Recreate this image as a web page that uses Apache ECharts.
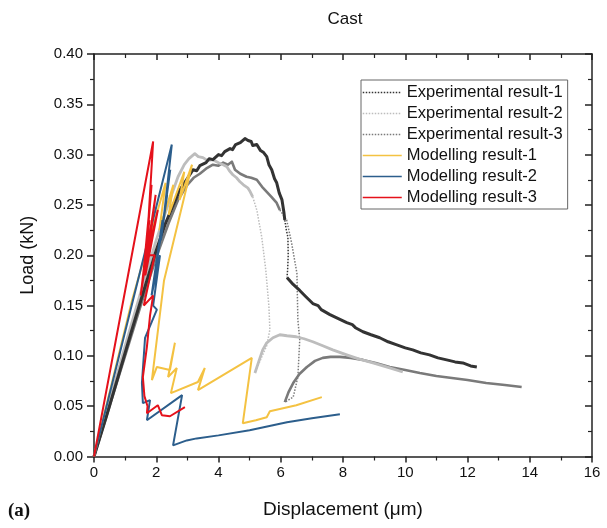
<!DOCTYPE html>
<html><head><meta charset="utf-8">
<script src="https://cdn.jsdelivr.net/npm/echarts@6/dist/echarts.min.js"></script>
<style>html,body{margin:0;padding:0;background:#fff}#c{width:607px;height:528px}</style>
</head><body><div id="c"></div>
<script>
// ---- data (x: displacement µm, y: load kN) ----
var exp1Rise = [[0,0],[0.4,0.04],[0.8,0.082],[1.2,0.124],[1.6,0.165],[2.0,0.205],[2.3,0.232],[2.55,0.25],[2.76,0.265],[2.95,0.274],[3.1,0.281],[3.18,0.285],[3.3,0.284],[3.4,0.289],[3.6,0.292],[3.7,0.296],[3.82,0.295],[4.0,0.3],[4.1,0.299],[4.2,0.303],[4.37,0.306],[4.45,0.305],[4.55,0.31],[4.7,0.312],[4.85,0.316],[4.95,0.314],[5.05,0.313],[5.1,0.309],[5.23,0.31],[5.35,0.304],[5.45,0.302],[5.55,0.298],[5.62,0.29],[5.71,0.285],[5.8,0.276],[5.87,0.272],[5.95,0.262],[6.04,0.255],[6.1,0.243],[6.13,0.235]];
var exp1Drop = [[6.13,0.235],[6.18,0.225],[6.23,0.218],[6.24,0.2],[6.22,0.185],[6.2,0.178]];
var exp1Tail = [[6.2,0.178],[6.4,0.171],[6.61,0.165],[6.8,0.159],[7.03,0.152],[7.2,0.150],[7.3,0.146],[7.58,0.141],[7.85,0.137],[8.12,0.133],[8.3,0.131],[8.4,0.128],[8.64,0.124],[8.9,0.121],[9.18,0.118],[9.45,0.114],[9.73,0.111],[10.0,0.108],[10.24,0.106],[10.5,0.103],[10.78,0.101],[11.05,0.098],[11.33,0.096],[11.6,0.094],[11.85,0.093],[12.1,0.09],[12.3,0.089]];

var exp2Rise = [[0,0],[0.5,0.055],[1.0,0.11],[1.5,0.163],[2.0,0.215],[2.4,0.252],[2.7,0.278],[2.9,0.29],[3.05,0.296],[3.24,0.301],[3.35,0.298],[3.5,0.297],[3.65,0.294],[3.82,0.295],[4.0,0.292],[4.15,0.29],[4.27,0.288],[4.35,0.284],[4.46,0.28],[4.58,0.277],[4.69,0.273],[4.8,0.27],[4.94,0.267],[5.02,0.263],[5.1,0.258]];
var exp2Drop = [[5.1,0.258],[5.23,0.245],[5.39,0.218],[5.52,0.185],[5.62,0.149],[5.65,0.126],[5.55,0.11],[5.39,0.099],[5.17,0.083]];
var exp2Tail = [[5.17,0.083],[5.3,0.095],[5.42,0.106],[5.55,0.113],[5.75,0.118],[5.97,0.121],[6.2,0.12],[6.5,0.119],[6.75,0.117],[7.03,0.114],[7.35,0.11],[7.67,0.106],[8.12,0.101],[8.5,0.097],[8.96,0.093],[9.5,0.088],[9.92,0.084]];

var exp3Rise = [[0,0],[0.5,0.05],[1.0,0.1],[1.5,0.15],[2.0,0.198],[2.4,0.232],[2.7,0.255],[3.0,0.27],[3.2,0.277],[3.4,0.281],[3.6,0.286],[3.82,0.29],[4.0,0.289],[4.15,0.292],[4.3,0.29],[4.43,0.293],[4.53,0.285],[4.7,0.281],[4.9,0.278],[5.05,0.277],[5.23,0.275],[5.4,0.268],[5.55,0.263],[5.7,0.258],[5.87,0.252],[5.97,0.245]];
var exp3Drop = [[5.97,0.245],[6.19,0.235],[6.35,0.212],[6.52,0.182],[6.55,0.136],[6.61,0.116],[6.55,0.079],[6.4,0.059],[6.13,0.054]];
var exp3Tail = [[6.13,0.054],[6.25,0.064],[6.4,0.073],[6.6,0.082],[6.84,0.089],[7.1,0.095],[7.35,0.098],[7.6,0.099],[7.9,0.099],[8.25,0.098],[8.64,0.096],[9.05,0.093],[9.5,0.089],[10.0,0.086],[10.47,0.083],[11.0,0.08],[11.5,0.078],[12.0,0.076],[12.6,0.073],[13.2,0.071],[13.74,0.069]];

var model1 = [[0,0],[1.22,0.155],[2.3,0.272],[2.1,0.225],[2.55,0.27],[2.4,0.24],[2.9,0.283],[2.75,0.255],[3.15,0.29],[2.25,0.175],[1.86,0.076],[2.02,0.089],[2.44,0.086],[2.6,0.113],[2.38,0.079],[2.66,0.088],[2.47,0.063],[3.34,0.074],[3.56,0.088],[3.34,0.066],[5.07,0.098],[4.78,0.033],[5.2,0.036],[5.55,0.039],[5.65,0.045],[6.5,0.051],[7.32,0.059]];
var model2 = [[0,0],[2.5,0.31],[2.25,0.24],[2.45,0.285],[2.15,0.215],[2.35,0.26],[2.0,0.19],[2.3,0.25],[1.92,0.175],[2.2,0.235],[1.85,0.16],[2.12,0.2],[1.9,0.15],[2.02,0.146],[1.64,0.118],[1.54,0.073],[1.57,0.053],[1.8,0.056],[1.7,0.036],[2.83,0.061],[2.54,0.011],[2.98,0.016],[3.3,0.018],[4.0,0.021],[5.0,0.026],[5.6,0.03],[6.2,0.034],[7.0,0.038],[7.9,0.042]];
var model3 = [[0,0],[1.9,0.313],[1.72,0.22],[1.85,0.27],[1.55,0.17],[1.78,0.235],[1.5,0.16],[1.98,0.26],[1.65,0.18],[2.05,0.245],[1.72,0.2],[1.95,0.2],[1.6,0.15],[1.9,0.16],[1.8,0.14],[1.7,0.109],[1.57,0.079],[1.62,0.06],[1.72,0.05],[1.7,0.043],[2.05,0.051],[2.18,0.041],[2.44,0.04],[2.92,0.049]];

var names = ['Experimental result-1','Experimental result-2','Experimental result-3','Modelling result-1','Modelling result-2','Modelling result-3'];
var xTicks = {min:0, max:16, step:2};
var yTicks = {min:0, max:0.40, step:0.05};

var C = {e1:'#333333', e2:'#BDBDBD', e3:'#7A7A7A', m1:'#F4C242', m2:'#2C5E8C', m3:'#E5111B'};
var FONT = 'Liberation Sans, Arial, sans-serif';

function solid(id, data, color, w){
  return {type:'line', id:id, name:id, data:data, showSymbol:false, symbol:'none', silent:true,
    lineStyle:{color:color, width:w, type:'solid', join:'round'}, itemStyle:{color:color}, z:2};
}
function dotted(name, data, color){
  return {type:'line', name:name, data:data, showSymbol:false, symbol:'none',
    lineStyle:{color:color, width:1.5, type:'dotted'}, itemStyle:{color:color}, z:2};
}
function model(name, data, color){
  return {type:'line', name:name, data:data, showSymbol:false, symbol:'none',
    lineStyle:{color:color, width:2}, itemStyle:{color:color}, z:3};
}

var chart = echarts.init(document.getElementById('c'), null, {renderer:'canvas'});
var axisCommon = {
  axisLine:{show:true, onZero:false, lineStyle:{color:'#222', width:1.5}},
  splitLine:{show:false}
};
chart.setOption({
  animation:false,
  backgroundColor:'#fff',
  title:{text:'Cast', left:340, top:6, textAlign:'center',
    textStyle:{fontFamily:FONT, fontSize:17, fontWeight:'normal', color:'#111'}},
  grid:{left:94, right:15, top:54, bottom:71.5, containLabel:false},
  legend:{data:names, orient:'vertical', left:361, top:80, itemWidth:39, itemHeight:12, itemGap:4,
    padding:[4,5,3,1], borderColor:'#666', borderWidth:1, backgroundColor:'#fff',
    itemStyle:{opacity:0, borderWidth:0},
    lineStyle:{width:1.5},
    textStyle:{fontFamily:FONT, fontSize:16.5, color:'#111'}},
  xAxis:[
    Object.assign({type:'value', min:xTicks.min, max:xTicks.max, interval:xTicks.step, position:'bottom',
      axisTick:{show:true, inside:false, length:6, lineStyle:{color:'#222', width:1.5}},
      minorTick:{show:true, splitNumber:2, length:4, lineStyle:{color:'#222', width:1.2}},
      axisLabel:{fontFamily:FONT, fontSize:15, color:'#111', margin:9},
      name:'Displacement (μm)', nameLocation:'middle', nameGap:44,
      nameTextStyle:{fontFamily:FONT, fontSize:19, color:'#111'}}, axisCommon),
    Object.assign({type:'value', min:xTicks.min, max:xTicks.max, interval:xTicks.step, position:'top',
      axisTick:{show:true, inside:true, length:6, lineStyle:{color:'#222', width:1.5}},
      minorTick:{show:true, splitNumber:2, length:4, lineStyle:{color:'#222', width:1.2}},
      axisLabel:{show:false}}, axisCommon)
  ],
  yAxis:[
    Object.assign({type:'value', min:yTicks.min, max:yTicks.max, interval:yTicks.step, position:'left',
      axisTick:{show:true, inside:false, length:7, lineStyle:{color:'#222', width:1.5}},
      minorTick:{show:true, splitNumber:2, length:4, lineStyle:{color:'#222', width:1.2}},
      axisLabel:{fontFamily:FONT, fontSize:15, color:'#111', margin:11, formatter:function(v){return v.toFixed(2);}},
      name:'Load (kN)', nameLocation:'middle', nameGap:57,
      nameTextStyle:{fontFamily:FONT, fontSize:18, color:'#111'}}, axisCommon),
    Object.assign({type:'value', min:yTicks.min, max:yTicks.max, interval:yTicks.step, position:'right',
      axisTick:{show:true, inside:true, length:7, lineStyle:{color:'#222', width:1.5}},
      minorTick:{show:true, splitNumber:2, length:4, lineStyle:{color:'#222', width:1.2}},
      axisLabel:{show:false}}, axisCommon)
  ],
  graphic:[{type:'text', left:8, top:502, style:{text:'(a)', font:'bold 19px "Liberation Serif", "Times New Roman", serif', fill:'#111'}}],
  series:[
    solid('e3r', exp3Rise, C.e3, 2.6), solid('e3t', exp3Tail, C.e3, 2.6), dotted(names[2], exp3Drop, C.e3),
    solid('e2r', exp2Rise, C.e2, 2.8), solid('e2t', exp2Tail, C.e2, 2.8), dotted(names[1], exp2Drop, C.e2),
    solid('e1r', exp1Rise, C.e1, 3), solid('e1t', exp1Tail, C.e1, 3), dotted(names[0], exp1Drop, C.e1),
    model(names[3], model1, C.m1), model(names[4], model2, C.m2), model(names[5], model3, C.m3)
  ]
});
</script></body></html>
